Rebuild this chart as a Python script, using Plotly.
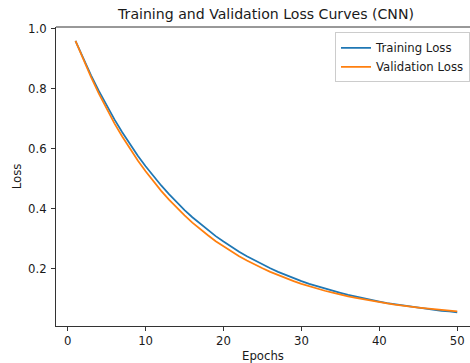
import plotly.graph_objects as go

epochs = list(range(1, 51))
train_loss = [0.960, 0.901, 0.845, 0.793, 0.744, 0.698, 0.655, 0.615, 0.577, 0.542,
              0.509, 0.478, 0.449, 0.422, 0.396, 0.372, 0.350, 0.329, 0.309, 0.291,
              0.273, 0.257, 0.242, 0.228, 0.214, 0.202, 0.190, 0.179, 0.169, 0.159,
              0.150, 0.142, 0.134, 0.127, 0.120, 0.113, 0.107, 0.101, 0.096, 0.091,
              0.086, 0.082, 0.078, 0.074, 0.070, 0.067, 0.063, 0.060, 0.058, 0.055]
val_loss = [0.960, 0.897, 0.839, 0.784, 0.733, 0.685, 0.641, 0.599, 0.561, 0.525,
            0.491, 0.460, 0.431, 0.403, 0.378, 0.354, 0.332, 0.312, 0.292, 0.275,
            0.258, 0.242, 0.228, 0.214, 0.202, 0.190, 0.179, 0.169, 0.159, 0.150,
            0.142, 0.134, 0.127, 0.121, 0.114, 0.108, 0.103, 0.098, 0.093, 0.089,
            0.085, 0.081, 0.077, 0.074, 0.071, 0.068, 0.065, 0.063, 0.060, 0.058]
x_ticks = [0, 10, 20, 30, 40, 50]
y_ticks = [0.2, 0.4, 0.6, 0.8, 1.0]
y_tick_labels = ["0.2", "0.4", "0.6", "0.8", "1.0"]

FONT = "DejaVu Sans"
TXT = "#1a1a1a"
FS = 11.7

fig = go.Figure()
fig.add_trace(go.Scatter(x=epochs, y=train_loss, mode="lines", name="Training Loss",
                         line=dict(color="#1f77b4", width=1.75)))
fig.add_trace(go.Scatter(x=epochs, y=val_loss, mode="lines", name="Validation Loss",
                         line=dict(color="#ff7f0e", width=1.75)))

fig.update_layout(
    width=470, height=363,
    margin=dict(l=56, r=0, t=27, b=37, pad=0),
    paper_bgcolor="white", plot_bgcolor="white",
    font=dict(family=FONT, size=FS, color=TXT),
    title=dict(text="Training and Validation Loss Curves (CNN)", x=(56 + 476) / 2 / 470,
               xanchor="center", y=1 - 14.5 / 363, yanchor="middle",
               font=dict(family=FONT, size=14.1, color=TXT)),
    showlegend=True,
    legend=dict(x=1.0, y=0.982, xanchor="right", yanchor="top",
                bgcolor="rgba(255,255,255,0.8)", bordercolor="#cccccc", borderwidth=1,
                font=dict(family=FONT, size=FS, color=TXT),
                itemwidth=30, tracegroupgap=0),
)
fig.update_xaxes(
    range=[-1.5, 51.64], tickvals=x_ticks, ticks="outside", ticklen=4, tickwidth=0.9,
    tickcolor="#333", showline=True, linecolor="#333", linewidth=1, showgrid=False,
    zeroline=False, title=dict(text="Epochs", standoff=4, font=dict(size=FS)),
    automargin=False,
)
fig.update_yaxes(
    range=[0.0095, 1.006], tickvals=y_ticks, ticktext=y_tick_labels, ticks="outside",
    ticklen=4, tickwidth=0.9, tickcolor="#333", showline=True, linecolor="#333",
    linewidth=1, showgrid=False, zeroline=False, ticklabelstandoff=2,
    title=dict(text="Loss", standoff=3, font=dict(size=FS)), automargin=False,
)
fig.add_shape(type="line", xref="paper", yref="paper", x0=0, x1=1, y0=1, y1=1,
              line=dict(color="#333", width=1))

fig.write_html("out.html")
